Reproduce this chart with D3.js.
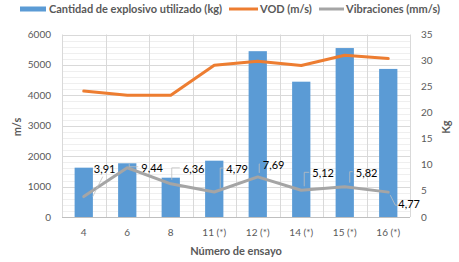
<!DOCTYPE html>
<html lang="es">
<head>
<meta charset="utf-8">
<title>Explosivo, VOD y vibraciones</title>
<script src="https://d3js.org/d3.v7.min.js"></script>
<style>
  body { margin: 0; background: #fff; }
  text { font-family: Lato, "Open Sans", sans-serif; fill: #595959; }
</style>
</head>
<body>
<script>
// data
var ensayos = ["4", "6", "8", "11 (*)", "12 (*)", "14 (*)", "15 (*)", "16 (*)"];
var explosivoKg = [9.46, 10.3, 7.54, 10.8, 31.8, 25.95, 32.4, 28.4];
var vod = [4140, 4000, 4000, 4990, 5120, 4980, 5320, 5210];
var vibraciones = [3.91, 9.44, 6.36, 4.79, 7.69, 5.12, 5.82, 4.77];
var vibLabels = ["3,91", "9,44", "6,36", "4,79", "7,69", "5,12", "5,82", "4,77"];
var leftTicks = [0, 1000, 2000, 3000, 4000, 5000, 6000];
var rightTicks = [0, 5, 10, 15, 20, 25, 30, 35];

// label placement (text left / baseline offset from the point, leader type)
var labelPos = [
  {dx: 10, dy: -24, kind: "diag"},
  {dx: 14, dy: 4, kind: "bracket", vx: 2},
  {dx: 12, dy: -11, kind: "bracket", vx: 1},
  {dx: 12, dy: -19, kind: "bracket", vx: 6},
  {dx: 5, dy: -8, kind: "bracket", vx: 1.5},
  {dx: 11, dy: -13, kind: "bracket", vx: 3},
  {dx: 11, dy: -10, kind: "bracket", vx: 5},
  {dx: 10, dy: 16, kind: "down"}
];

var W = 459, H = 262;
var plotL = 62, plotR = 410, plotT = 34.5, plotB = 217;

var svg = d3.select("body").append("svg")
  .attr("width", W).attr("height", H);

var x = d3.scaleBand().domain(ensayos).range([plotL, plotR]).padding(0);
var yL = d3.scaleLinear().domain([0, 6000]).range([plotB, plotT]);
var yR = d3.scaleLinear().domain([0, 35]).range([plotB, plotT]);

// minor gridlines
svg.append("g").selectAll("line")
  .data(yL.ticks(30))
  .enter().append("line")
  .attr("x1", plotL).attr("x2", plotR)
  .attr("y1", function(d) { return Math.round(yL(d)) + 0.5; })
  .attr("y2", function(d) { return Math.round(yL(d)) + 0.5; })
  .attr("stroke", "#efefef");

// major gridlines
svg.append("g").selectAll("line")
  .data(leftTicks)
  .enter().append("line")
  .attr("x1", plotL).attr("x2", plotR)
  .attr("y1", function(d) { return Math.round(yL(d)) + 0.5; })
  .attr("y2", function(d) { return Math.round(yL(d)) + 0.5; })
  .attr("stroke", "#d9d9d9");

// vertical gridlines at category boundaries
var bounds = ensayos.map(function(c) { return x(c); }).concat([plotR]);
svg.append("g").selectAll("line")
  .data(bounds)
  .enter().append("line")
  .attr("x1", function(d) { return Math.round(d) + 0.5; })
  .attr("x2", function(d) { return Math.round(d) + 0.5; })
  .attr("y1", plotT).attr("y2", plotB)
  .attr("stroke", "#d9d9d9");

// bars
var bw = x.bandwidth() * 0.42;
svg.append("g").selectAll("rect")
  .data(explosivoKg)
  .enter().append("rect")
  .attr("x", function(d, i) { return x(ensayos[i]) + x.bandwidth() / 2 - bw / 2; })
  .attr("y", function(d) { return yR(d); })
  .attr("width", bw)
  .attr("height", function(d) { return plotB - yR(d); })
  .attr("fill", "#5b9bd5");

var cx = function(d, i) { return x(ensayos[i]) + x.bandwidth() / 2; };

// VOD line
svg.append("path")
  .datum(vod)
  .attr("fill", "none")
  .attr("stroke", "#ed7d31")
  .attr("stroke-width", 3)
  .attr("stroke-linejoin", "round")
  .attr("stroke-linecap", "round")
  .attr("d", d3.line().x(cx).y(function(d) { return yL(d); }));

// vibraciones line
svg.append("path")
  .datum(vibraciones)
  .attr("fill", "none")
  .attr("stroke", "#a5a5a5")
  .attr("stroke-width", 3)
  .attr("stroke-linejoin", "round")
  .attr("stroke-linecap", "round")
  .attr("d", d3.line().x(cx).y(function(d) { return yR(d); }));

// data labels with leader lines
var lab = svg.append("g");
vibraciones.forEach(function(v, i) {
  var px = cx(v, i), py = yR(v), p = labelPos[i];
  var tx = px + p.dx, ty = py + p.dy;
  var path;
  if (p.kind === "diag") {
    path = "M" + (px + 9) + "," + (py) + "L" + (tx + 9) + "," + (ty + 4);
  } else if (p.kind === "down") {
    path = "M" + (px + 2) + "," + (py + 3) + "L" + (px + 7) + "," + (ty - 3) + "H" + (tx - 1);
  } else {
    path = "M" + (px + p.vx) + "," + (py - 4) + "V" + (ty - 5) + "H" + (tx - 3);
  }
  lab.append("path")
    .attr("d", path)
    .attr("fill", "none")
    .attr("stroke", "#bfbfbf")
    .attr("stroke-width", 0.8);
  lab.append("text")
    .attr("x", tx).attr("y", ty)
    .attr("font-size", 11)
    .style("fill", "#000")
    .text(vibLabels[i]);
});

// axis line
svg.append("line")
  .attr("x1", plotL).attr("x2", plotR)
  .attr("y1", plotB + 0.5).attr("y2", plotB + 0.5)
  .attr("stroke", "#bfbfbf");

// left ticks
svg.append("g").selectAll("text")
  .data(leftTicks)
  .enter().append("text")
  .attr("x", 51)
  .attr("y", function(d) { return yL(d); })
  .attr("dy", "0.35em")
  .attr("text-anchor", "end")
  .attr("font-size", 10)
  .text(function(d) { return d; });

// right ticks
svg.append("g").selectAll("text")
  .data(rightTicks)
  .enter().append("text")
  .attr("x", 421)
  .attr("y", function(d) { return yR(d); })
  .attr("dy", "0.35em")
  .attr("font-size", 10)
  .text(function(d) { return d; });

// category labels
svg.append("g").selectAll("text")
  .data(ensayos)
  .enter().append("text")
  .attr("x", function(d) { return x(d) + x.bandwidth() / 2; })
  .attr("y", 236)
  .attr("text-anchor", "middle")
  .attr("font-size", 10)
  .text(function(d) { return d; });

// axis titles
svg.append("text")
  .attr("transform", "translate(21,127) rotate(-90)")
  .attr("text-anchor", "middle")
  .attr("font-size", 11)
  .attr("font-weight", "bold")
  .text("m/s");

svg.append("text")
  .attr("transform", "translate(450,127) rotate(-90)")
  .attr("text-anchor", "middle")
  .attr("font-size", 11)
  .attr("font-weight", "bold")
  .text("Kg");

svg.append("text")
  .attr("x", (plotL + plotR) / 2)
  .attr("y", 255)
  .attr("text-anchor", "middle")
  .attr("font-size", 11)
  .attr("font-weight", "bold")
  .text("Número de ensayo");

// legend
var lg = svg.append("g").attr("font-size", 11).attr("font-weight", "bold");
lg.append("rect").attr("x", 20).attr("y", 6.5).attr("width", 26).attr("height", 5).attr("fill", "#5b9bd5");
lg.append("text").attr("x", 49).attr("y", 13).text("Cantidad de explosivo utilizado (kg)");
lg.append("line").attr("x1", 229).attr("x2", 258).attr("y1", 9).attr("y2", 9)
  .attr("stroke", "#ed7d31").attr("stroke-width", 3);
lg.append("text").attr("x", 260).attr("y", 13).text("VOD (m/s)");
lg.append("line").attr("x1", 319).attr("x2", 344).attr("y1", 9).attr("y2", 9)
  .attr("stroke", "#a5a5a5").attr("stroke-width", 3);
lg.append("text").attr("x", 346).attr("y", 13).text("Vibraciones (mm/s)");
</script>
</body>
</html>
